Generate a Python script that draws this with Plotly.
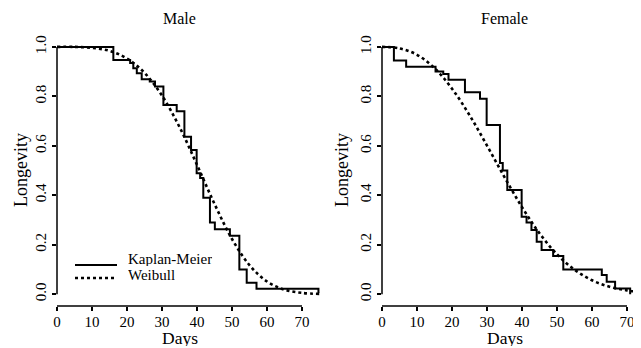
import plotly.graph_objects as go

# ---------------- data ----------------
male_km_days = [0, 16.1, 20.9, 21.8, 22.8, 24.2, 26.5, 28.0, 30.4, 34.2, 36.4, 38.3,
                39.9, 40.9, 41.8, 43.7, 45.1, 49.4, 52.1, 54.2, 57.0, 74.7, 74.7]
male_km_surv = [1.0, 0.947, 0.935, 0.914, 0.893, 0.869, 0.860, 0.840, 0.765, 0.740, 0.637, 0.583,
                0.489, 0.470, 0.390, 0.290, 0.262, 0.236, 0.100, 0.046, 0.022, 0.022, 0.005]

male_wb_days = [0, 5, 10, 15, 20, 25, 30, 35, 40, 45, 50, 55, 60, 65, 70, 75]
male_wb_surv = [1.0, 1.0, 0.996, 0.984, 0.953, 0.895, 0.803, 0.676, 0.523, 0.365,
                0.223, 0.117, 0.051, 0.018, 0.005, 0.001]

female_km_days = [0, 3.4, 6.9, 15.3, 17.5, 19.0, 23.7, 28.0, 29.9, 33.7, 34.5, 35.8,
                  39.9, 41.3, 42.7, 44.2, 45.6, 48.9, 51.8, 62.8, 64.2, 66.6, 70.9, 70.9]
female_km_surv = [1.0, 0.945, 0.920, 0.900, 0.890, 0.867, 0.817, 0.790, 0.684, 0.530, 0.500, 0.421,
                  0.313, 0.290, 0.259, 0.212, 0.178, 0.154, 0.100, 0.077, 0.050, 0.023, 0.023, 0.0]

female_wb_days = [0, 5, 10, 15, 20, 25, 30, 35, 40, 45, 50, 55, 60, 65, 70, 74]
female_wb_surv = [1.0, 0.994, 0.968, 0.914, 0.831, 0.724, 0.601, 0.473, 0.352, 0.246,
                  0.161, 0.099, 0.056, 0.030, 0.015, 0.008]

x_ticks = [0, 10, 20, 30, 40, 50, 60, 70]
y_ticks = [0.0, 0.2, 0.4, 0.6, 0.8, 1.0]
y_ticktext = ["0.0", "0.2", "0.4", "0.6", "0.8", "1.0"]
panel_titles = ["Male", "Female"]
legend_labels = ["Kaplan-Meier", "Weibull"]

# ---------------- layout helpers ----------------
# the page body has an 8px margin, so the figure is drawn 8px in from the window corner
OFF = 8
W, H = 641 - OFF, 348 - OFF
FONT = "Liberation Serif"


def px(x):
    return (x - OFF) / W


def py(y):
    return 1 - (y - OFF) / H


fig = go.Figure()

panels = [
    (male_km_days, male_km_surv, male_wb_days, male_wb_surv, "x", "y"),
    (female_km_days, female_km_surv, female_wb_days, female_wb_surv, "x2", "y2"),
]
for kd, ks, wd, ws, xa, ya in panels:
    fig.add_trace(go.Scatter(x=kd, y=ks, mode="lines", line=dict(color="black", width=2, shape="hv"),
                             xaxis=xa, yaxis=ya, showlegend=False, hoverinfo="skip"))
    fig.add_trace(go.Scatter(x=wd, y=ws, mode="lines",
                             line=dict(color="black", width=2.6, dash="dot", shape="spline", smoothing=1.0),
                             xaxis=xa, yaxis=ya, showlegend=False, hoverinfo="skip"))

y_dom = [py(306), py(37)]
y_rng = [-0.048, 1.04]

common_x = dict(tickmode="array", tickvals=x_ticks, ticks="outside", ticklen=4, tickwidth=1.5,
                tickcolor="black", showline=False, showgrid=False, zeroline=False, automargin=False,
                ticklabelstandoff=-2,
                tickfont=dict(family=FONT, size=15, color="black"), fixedrange=True)
common_y = dict(tickmode="array", tickvals=y_ticks, ticktext=y_ticktext, ticks="outside", ticklen=4,
                tickwidth=1.5, tickcolor="black", showline=False, showgrid=False, zeroline=False,
                automargin=False, tickangle=-90, tickfont=dict(family=FONT, size=15, color="black"),
                range=y_rng, domain=y_dom, fixedrange=True)

fig.update_layout(
    width=W, height=H,
    margin=dict(l=0, r=0, t=0, b=0, autoexpand=False),
    paper_bgcolor="white", plot_bgcolor="white",
    xaxis=dict(domain=[px(57), px(323)], range=[0, 76], anchor="y", **common_x),
    yaxis=dict(anchor="x", **common_y),
    xaxis2=dict(domain=[px(382), 1.0], range=[0, 74], anchor="y2", **common_x),
    yaxis2=dict(anchor="x2", **common_y),
    showlegend=False,
)

shapes = []
annotations = []
for i, (xa, ya) in enumerate([("x", "y"), ("x2", "y2")]):
    # R-style axis lines spanning first to last tick
    shapes.append(dict(type="line", xref=xa, yref=ya + " domain", x0=x_ticks[0], x1=x_ticks[-1],
                       y0=0, y1=0, line=dict(color="black", width=1.5)))
    shapes.append(dict(type="line", xref=xa + " domain", yref=ya, x0=0, x1=0,
                       y0=y_ticks[0], y1=y_ticks[-1], line=dict(color="black", width=1.5)))
    # panel title
    annotations.append(dict(text=panel_titles[i], xref=xa, yref="paper", x=35, y=py(8),
                            showarrow=False, font=dict(family=FONT, size=16, color="black"),
                            xanchor="center", yanchor="top"))
    # x-axis title
    annotations.append(dict(text="Days", xref=xa, yref="paper", x=35, y=py(348),
                            showarrow=False, font=dict(family=FONT, size=17.5, color="black"),
                            xanchor="center", yanchor="bottom", height=16))

# y-axis titles
for xc in [21, 342]:
    annotations.append(dict(text="Longevity", xref="paper", yref="paper", x=px(xc), y=py(170),
                            showarrow=False, textangle=-90,
                            font=dict(family=FONT, size=18, color="black"),
                            xanchor="center", yanchor="middle"))

# legend (manual, R-style) inside the male panel
shapes.append(dict(type="line", xref="paper", yref="paper", x0=px(75), x1=px(117), y0=py(265), y1=py(265),
                   line=dict(color="black", width=2)))
shapes.append(dict(type="line", xref="paper", yref="paper", x0=px(75), x1=px(117), y0=py(278), y1=py(278),
                   line=dict(color="black", width=2.6, dash="dot")))
for lab, yc in zip(legend_labels, [258, 274]):
    annotations.append(dict(text=lab, xref="paper", yref="paper", x=px(126), y=py(yc), showarrow=False,
                            font=dict(family=FONT, size=15, color="black"),
                            xanchor="left", yanchor="middle", height=15))

fig.update_layout(shapes=shapes, annotations=annotations)

fig.write_html("out.html")
